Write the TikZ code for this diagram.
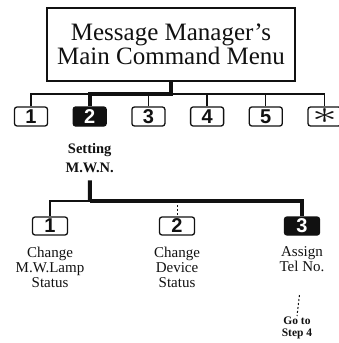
\documentclass[tikz,border=0pt]{standalone}
\usepackage{fontspec}
\setmainfont{Liberation Serif}
\newfontfamily\keyfont{Liberation Sans}
\usepackage{tikz}
\usetikzlibrary{positioning}
\definecolor{ink}{HTML}{111111}
\definecolor{paper}{HTML}{FFFFFF}
\tikzset{
  titlebox/.style={rectangle,draw=ink,line width=1.2pt,align=center,
    text=ink,minimum width=248pt,minimum height=73pt,inner sep=2pt,
    font=\fontsize{25}{24}\selectfont},
  keybox/.style={rectangle,rounded corners=2.5pt,draw=ink,line width=1.3pt,
    fill=paper,text=ink,minimum width=33pt,minimum height=19pt,inner sep=0pt,
    font=\keyfont\bfseries\fontsize{20}{20}\selectfont},
  keyon/.style={keybox,fill=ink,text=paper},
  keylabel/.style={align=center,text=ink,inner sep=1pt,
    font=\fontsize{15}{15}\selectfont},
  keysmall/.style={align=center,text=ink,inner sep=1pt,
    font=\bfseries\fontsize{14.5}{19}\selectfont},
  gotolabel/.style={align=center,text=ink,inner sep=1pt,
    font=\bfseries\fontsize{11.5}{11.5}\selectfont},
  thinln/.style={line width=1.3pt,color=ink},
  thickln/.style={line width=4pt,color=ink},
  dashln/.style={line width=1pt,color=ink,dash pattern=on 2pt off 2pt},
}
\begin{document}
\begin{tikzpicture}[x=1pt,y=-1pt, node distance=0pt and 24.4pt]
  \useasboundingbox (0,0) rectangle (338,343);
  \node[titlebox] (title) at (171,44.5) {Message Manager's\\Main Command Menu};

  % main menu keys
  \node[keybox] (m1) at (31,116.5) {1};
  \node[keyon, right=of m1] (m2) {2};
  \node[keybox, right=of m2] (m3) {3};
  \node[keybox, right=of m3] (m4) {4};
  \node[keybox, right=of m4] (m5) {5};
  \node[keybox, right=of m5] (mx) {\fontsize{10}{10}\selectfont\scalebox{5}[3.2]{$\ast$}};
  \node[keysmall, below=16pt of m2] (setlbl) {Setting\\M.W.N.};

  \coordinate (hub) at (171,94);
  \draw[thinln] (m1.north) |- (mx.north |- hub) -- (mx.north);
  \foreach \k in {m3,m4,m5}
    \draw[thinln] (\k.north) -- (\k.north |- hub);
  \draw[thickln] (title.south) -- (hub) -| (m2.north);

  % sub menu keys
  \node[keybox, minimum width=35pt, minimum height=18pt] (s1) at (50,226) {1};
  \node[keybox, minimum width=35pt, minimum height=18pt] (s2) at (177,226) {2};
  \node[keyon, minimum width=35pt, minimum height=18pt] (s3) at (302,226) {3};
  \node[keylabel, below=10pt of s1] (lamp) {Change\\M.W.Lamp\\Status};
  \node[keylabel, below=10pt of s2] (device) {Change\\Device\\Status};
  \node[keylabel, below=10pt of s3] (telno) {Assign\\Tel No.};
  \node[gotolabel] (goto) at (297,328) {Go to\\Step 4};

  \coordinate (hub2) at (90,201);
  \draw[thickln, shorten <=6pt] (setlbl.south) -- (hub2);
  \draw[thinln] (hub2) -| (s1.north);
  \draw[thickln] (hub2) -| (s3.north);
  \draw[dashln] (s2.north |- hub2) -- (s2.north);
  \draw[dashln, shorten <=22pt] (telno.south) -- (goto.north);
\end{tikzpicture}
\end{document}
